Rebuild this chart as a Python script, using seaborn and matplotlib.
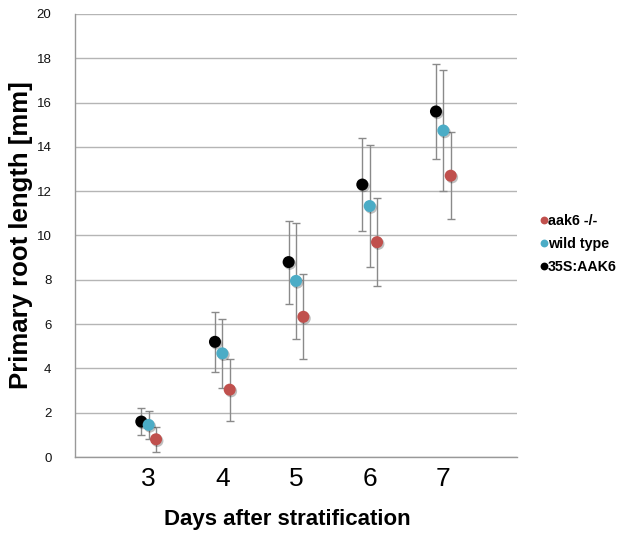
import numpy as np
import pandas as pd
import matplotlib
matplotlib.use("Agg")
import matplotlib.pyplot as plt
import matplotlib.patheffects as pe
import seaborn as sns

# ---- data ----
days = [3, 4, 5, 6, 7]
series_names = ["35S:AAK6", "wild type", "aak6 -/-"]
mean_35s = [1.6, 5.2, 8.8, 12.3, 15.6]
sd_35s = [0.6, 1.35, 1.87, 2.08, 2.13]
mean_wt = [1.45, 4.68, 7.95, 11.33, 14.74]
sd_wt = [0.62, 1.57, 2.63, 2.75, 2.71]
mean_aak6 = [0.8, 3.04, 6.33, 9.7, 12.7]
sd_aak6 = [0.57, 1.4, 1.92, 2.0, 1.97]
legend_order = ["aak6 -/-", "wild type", "35S:AAK6"]

colors = {"aak6 -/-": "#c0504d", "wild type": "#4bacc6", "35S:AAK6": "#000000"}
offsets = {"35S:AAK6": -0.1, "wild type": 0.0, "aak6 -/-": 0.1}

means = {"35S:AAK6": mean_35s, "wild type": mean_wt, "aak6 -/-": mean_aak6}
sds = {"35S:AAK6": sd_35s, "wild type": sd_wt, "aak6 -/-": sd_aak6}

rows = []
for s in series_names:
    for d, m, e in zip(days, means[s], sds[s]):
        rows.append({"series": s, "day": d, "pos": d + offsets[s], "length": m, "sd": e})
df = pd.DataFrame(rows)

sns.set_style("white")
plt.rcParams["font.family"] = ["Liberation Sans", "DejaVu Sans"]
plt.rcParams["text.color"] = "black"
plt.rcParams["axes.labelcolor"] = "black"

fig, ax = plt.subplots(figsize=(6.18, 5.37), dpi=100)
fig.subplots_adjust(left=75 / 618, right=517 / 618, bottom=1 - 457 / 537, top=1 - 14 / 537)

# error bars
for s in series_names:
    sub = df[df.series == s]
    ax.errorbar(sub["pos"], sub["length"], yerr=sub["sd"], fmt="none",
                ecolor="#8a8a8a", elinewidth=1.0, capsize=3.0, capthick=1.0, zorder=2)

n_before = len(ax.collections)
sns.scatterplot(data=df, x="pos", y="length", hue="series", hue_order=legend_order,
                palette=colors, s=75, edgecolor="none", linewidth=0, ax=ax, zorder=3,
                legend=True)
for coll in ax.collections[n_before:]:
    coll.set_path_effects([pe.SimplePatchShadow(offset=(1, -1.2), shadow_rgbFace="#000000",
                                                alpha=0.25), pe.Normal()])

# axes
ax.set_xlim(2, 8)
ax.set_ylim(0, 20)
ax.set_xticks([2, 3, 4, 5, 6, 7, 8])
ax.set_xticklabels(["", "3", "4", "5", "6", "7", ""], fontsize=19)
ax.set_yticks(range(0, 21, 2))
ax.set_yticklabels([str(v) for v in range(0, 21, 2)], fontsize=9.5)
ax.tick_params(axis="x", direction="out", length=4, width=1, color="#999999", pad=3,
               labelcolor="black")
ax.tick_params(axis="y", direction="out", length=4, width=1, color="#999999", pad=13,
               labelcolor="#111111")

ax.yaxis.grid(True, color="#b5b5b5", linewidth=1.0)
ax.xaxis.grid(False)
ax.set_axisbelow(True)
for side in ["top", "right"]:
    ax.spines[side].set_visible(False)
for side in ["left", "bottom"]:
    ax.spines[side].set_color("#999999")
    ax.spines[side].set_linewidth(1.0)

ax.set_xlabel("Days after stratification", fontsize=16, fontweight="bold")
ax.set_ylabel("Primary root length [mm]", fontsize=18.5, fontweight="bold")
ax.xaxis.set_label_coords(0.48, -0.118)
ax.yaxis.set_label_coords(-0.095, 0.5)

leg = ax.legend(loc="upper left", bbox_to_anchor=(540 / 618, 1 - 214 / 537),
                bbox_transform=fig.transFigure, frameon=False, fontsize=10.3,
                handletextpad=0.05, handlelength=0.5, labelspacing=0.62, borderpad=0,
                borderaxespad=0, markerscale=0.65)
for t in leg.get_texts():
    t.set_fontweight("bold")

fig.savefig("out.png", dpi=100)
